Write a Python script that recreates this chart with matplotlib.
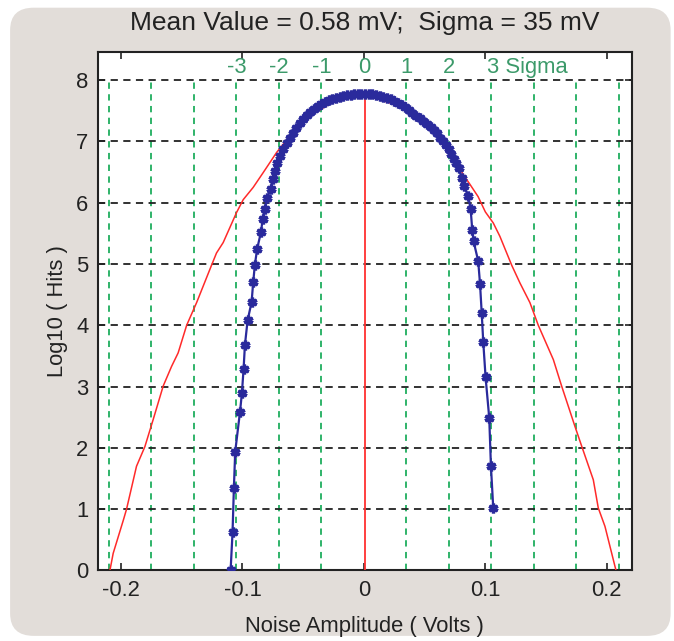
import matplotlib.pyplot as plt
from matplotlib.patches import FancyBboxPatch

# Datos
mean_v = 0.00058
sigma = 0.035

# distribucion medida (azul)
blue_x = [-0.1098, -0.1082, -0.1071, -0.1060, -0.1021, -0.1005, -0.0991, -0.0980,
          -0.0958, -0.0925, -0.0912, -0.0898, -0.0879, -0.0848, -0.0834, -0.0818,
          -0.0796, -0.0769, -0.0752, -0.0733, -0.0714, -0.0692, -0.0665, -0.0637,
          -0.0610, -0.0585, -0.0560, -0.0530, -0.0500, -0.0470, -0.0440, -0.0410,
          -0.0380, -0.0350, -0.0320, -0.0290, -0.0260, -0.0230, -0.0200, -0.0170,
          -0.0140, -0.0110, -0.0080, -0.0050, -0.0020, 0.0010, 0.0040, 0.0070,
          0.0100, 0.0130, 0.0160, 0.0190, 0.0220, 0.0250, 0.0280, 0.0310,
          0.0340, 0.0370, 0.0400, 0.0430, 0.0460, 0.0490, 0.0520, 0.0550,
          0.0575, 0.0600, 0.0625, 0.0650, 0.0675, 0.0700, 0.0720, 0.0740,
          0.0760, 0.0780, 0.0805, 0.0824, 0.0859, 0.0879, 0.0892, 0.0903,
          0.0941, 0.0956, 0.0970, 0.0983, 0.1002, 0.1032, 0.1046, 0.1065]
blue_y = [0.00, 0.62, 1.34, 1.94, 2.58, 2.89, 3.29, 3.68,
          4.08, 4.38, 4.70, 4.99, 5.25, 5.52, 5.73, 5.90,
          6.07, 6.23, 6.38, 6.52, 6.65, 6.76, 6.87, 6.98,
          7.06, 7.14, 7.22, 7.30, 7.37, 7.43, 7.48, 7.53,
          7.57, 7.61, 7.64, 7.67, 7.69, 7.71, 7.73, 7.745,
          7.755, 7.765, 7.77, 7.775, 7.78, 7.78, 7.775, 7.77,
          7.76, 7.745, 7.73, 7.71, 7.69, 7.66, 7.63, 7.60,
          7.56, 7.52, 7.47, 7.42, 7.38, 7.34, 7.29, 7.23,
          7.18, 7.13, 7.06, 7.00, 6.94, 6.88, 6.80, 6.72,
          6.64, 6.56, 6.41, 6.27, 6.11, 5.89, 5.56, 5.37,
          5.05, 4.68, 4.20, 3.72, 3.15, 2.49, 1.70, 1.02]

# curva de referencia (roja)
red_x = [-0.2092, -0.2065, -0.1980, -0.1955, -0.1873, -0.1804, -0.1736, -0.1653,
         -0.1584, -0.1530, -0.1460, -0.1378, -0.1255, -0.1214, -0.1159, -0.1049,
         -0.0994, -0.0912, -0.0830, -0.0719, -0.0610, -0.0540, -0.0400, -0.0266,
         -0.0129, 0.0000, 0.0104, 0.0240, 0.0380, 0.0516, 0.0626, 0.0680,
         0.0763, 0.0818, 0.0873, 0.0940, 0.1000, 0.1065, 0.1120, 0.1217,
         0.1285, 0.1367, 0.1436, 0.1560, 0.1628, 0.1738, 0.1793, 0.1889,
         0.1930, 0.1985, 0.2076]
red_y = [0.00, 0.28, 0.83, 1.00, 1.70, 2.02, 2.46, 3.01,
         3.33, 3.55, 4.00, 4.37, 4.98, 5.18, 5.35, 5.84,
         6.05, 6.25, 6.49, 6.82, 7.09, 7.25, 7.47, 7.63,
         7.72, 7.74, 7.70, 7.61, 7.47, 7.25, 7.06, 6.95,
         6.65, 6.46, 6.30, 6.10, 5.85, 5.67, 5.45, 4.98,
         4.69, 4.37, 4.00, 3.44, 3.01, 2.35, 2.03, 1.48,
         1.02, 0.72, 0.00]

sigma_marks = [-3, -2, -1, 0, 1, 2, 3]
green_marks = [-6, -5, -4, -3, -2, -1, 1, 2, 3, 4, 5, 6]
y_grid = [1, 2, 3, 4, 5, 6, 7, 8]
x_ticks = [-0.2, -0.1, 0, 0.1, 0.2]
x_labels = ['-0.2', '-0.1', '0', '0.1', '0.2']

plt.rcParams['font.family'] = ['Liberation Sans', 'DejaVu Sans']
plt.rcParams['font.size'] = 15.8

fig = plt.figure(figsize=(6.74, 6.41), dpi=100)
fig.patch.set_facecolor('white')
# panel gris de fondo
panel = FancyBboxPatch((0.015, 0.008), 0.98, 0.98, boxstyle='round,pad=0,rounding_size=0.035',
                       transform=fig.transFigure, facecolor='#e2ddd9', edgecolor='none', zorder=-10)
fig.add_artist(panel)

ax = fig.add_axes([0.1454, 0.110, 0.7918, 0.809])
ax.set_facecolor('white')

# rejilla
for k in green_marks:
    ax.plot([k * sigma, k * sigma], [0, 8], color='#1fae5e', linestyle=(0, (3.5, 3)), linewidth=1.3, zorder=1)
for yy in y_grid:
    ax.axhline(yy, color='#222222', linestyle=(0, (4, 3)), linewidth=1.3, zorder=1)

ax.plot(red_x, red_y, color='#ff2a2a', linewidth=1.1, zorder=3)
ax.plot([mean_v, mean_v], [0, 7.74], color='#ff3030', linewidth=1.3, zorder=3)
ax.plot(blue_x, blue_y, color='#2a2a9c', linewidth=1.6, marker=(6, 2, 0), markersize=7,
        markeredgewidth=2.4, markeredgecolor='#2a2a9c', zorder=4)

for k in sigma_marks:
    if k == 3:
        ax.text(k * sigma - 0.004, 8.21, '3 Sigma', color='#3c9a6a', ha='left', va='center')
    else:
        ax.text(k * sigma, 8.21, str(k), color='#3c9a6a', ha='center', va='center')

ax.set_xlim(-0.219, 0.2205)
ax.set_ylim(0, 8.46)
ax.set_xticks(x_ticks)
ax.set_xticklabels(x_labels)
ax.set_yticks(range(0, 9))
ax.tick_params(direction='in', top=True, right=True, length=5, width=1.2, pad=7, colors='#222222')
for s in ax.spines.values():
    s.set_linewidth(1.5)
    s.set_color('#222222')

ax.set_title('Mean Value = 0.58 mV;  Sigma = 35 mV', pad=16, color='#222222')
ax.set_xlabel('Noise Amplitude ( Volts )', labelpad=11, color='#222222')
ax.set_ylabel('Log10 ( Hits )', labelpad=6, color='#222222')

plt.savefig('out.png', dpi=100, facecolor=fig.get_facecolor())
